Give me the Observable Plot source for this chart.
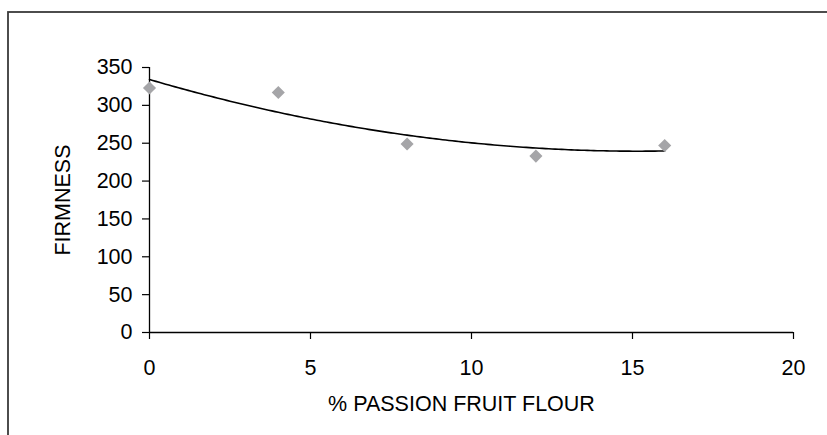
<!DOCTYPE html>
<html>
<head>
<meta charset="utf-8">
<script src="https://cdn.jsdelivr.net/npm/d3@7"></script>
<script src="https://cdn.jsdelivr.net/npm/@observablehq/plot@0.6"></script>
<style>
  html, body { margin: 0; padding: 0; background: #fff; }
  #chart { width: 827px; height: 435px; overflow: hidden; }
</style>
</head>
<body>
<div id="chart"></div>
<script>
// Data
const flourPct = [0, 4, 8, 12, 16];
const firmness = [323, 317, 249, 233, 247];
const xTicks = [0, 5, 10, 15, 20];
const yTicks = [0, 50, 100, 150, 200, 250, 300, 350];
const xTitle = "% PASSION FRUIT FLOUR";
const yTitle = "FIRMNESS";

const points = flourPct.map((x, i) => ({x, y: firmness[i]}));

// Second-order polynomial least-squares trend line (as in the original)
function polyFit2(xs, ys) {
  const n = xs.length;
  let s = [0,0,0,0,0], t = [0,0,0];
  for (let i = 0; i < n; i++) {
    const x = xs[i], y = ys[i];
    for (let k = 0; k < 5; k++) s[k] += Math.pow(x, k);
    for (let k = 0; k < 3; k++) t[k] += Math.pow(x, k) * y;
  }
  const A = [[s[0], s[1], s[2], t[0]], [s[1], s[2], s[3], t[1]], [s[2], s[3], s[4], t[2]]];
  for (let i = 0; i < 3; i++) {
    for (let j = i + 1; j < 3; j++) {
      const f = A[j][i] / A[i][i];
      for (let k = i; k < 4; k++) A[j][k] -= f * A[i][k];
    }
  }
  const c = [0,0,0];
  for (let i = 2; i >= 0; i--) {
    let v = A[i][3];
    for (let k = i + 1; k < 3; k++) v -= A[i][k] * c[k];
    c[i] = v / A[i][i];
  }
  return c;
}
const coef = polyFit2(flourPct, firmness);
const xMin = d3.min(flourPct), xMax = d3.max(flourPct);
const trend = d3.range(xMin, xMax + 1e-9, (xMax - xMin) / 160).map(x => ({x, y: coef[0] + coef[1] * x + coef[2] * x * x}));

const FONT = "'Liberation Sans', Arial, sans-serif";
const FS = 21.5;

const chart = Plot.plot({
  width: 827,
  height: 435,
  marginLeft: 149,
  marginRight: 34,
  marginTop: 67,
  marginBottom: 103,
  style: {fontFamily: FONT, fontSize: FS + "px", color: "#000", background: "#fff"},
  x: {domain: [0, 20], ticks: xTicks},
  y: {domain: [0, 350], ticks: yTicks},
  marks: [
    Plot.axisY({ticks: yTicks, tickSize: 7, tickPadding: 10, label: null, stroke: "#000", strokeWidth: 1.2}),
    Plot.axisX({ticks: xTicks, tickSize: 7, tickPadding: 20, label: null, stroke: "#000", strokeWidth: 1.2}),
    Plot.ruleX([0], {stroke: "#000", strokeWidth: 1.3}),
    Plot.ruleY([0], {stroke: "#000", strokeWidth: 1.3}),
    Plot.line(trend, {x: "x", y: "y", stroke: "#000", strokeWidth: 1.6}),
    Plot.dot(points, {x: "x", y: "y", symbol: "diamond2", r: 5.9, fill: "#a5a5a8", stroke: "none"}),
    Plot.text([xTitle], {frameAnchor: "bottom", textAnchor: "middle", lineAnchor: "middle", dy: 72, dx: -10, fontSize: FS, fill: "#000"}),
    Plot.text([yTitle], {frameAnchor: "left", textAnchor: "middle", lineAnchor: "middle", dx: -86.5, rotate: -90, fontSize: FS, fill: "#000"})
  ]
});

d3.select(chart).insert("rect", ":first-child")
  .attr("x", 8).attr("y", 12).attr("width", 900).attr("height", 600)
  .attr("fill", "none").attr("stroke", "#3a3a3a").attr("stroke-width", 1.8);

document.getElementById("chart").appendChild(chart);
</script>
</body>
</html>
